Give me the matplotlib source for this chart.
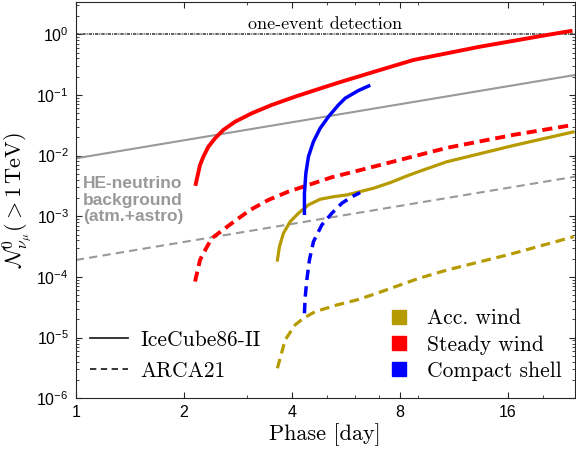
import matplotlib
matplotlib.use('Agg')
import matplotlib.pyplot as plt
from matplotlib.lines import Line2D
from matplotlib.ticker import FixedLocator, FixedFormatter, LogLocator, NullFormatter

plt.rcParams['mathtext.fontset'] = 'custom'
plt.rcParams['mathtext.rm'] = 'Liberation Sans'
plt.rcParams['mathtext.it'] = 'Liberation Sans:italic'
plt.rcParams['mathtext.bf'] = 'Liberation Sans:bold'
plt.rcParams['font.family'] = 'Liberation Sans'

# expected number of nu_mu events (> 1 TeV) vs. orbital phase [day]
acc_t = [3.647, 3.694, 3.790, 3.957, 4.172, 4.450, 4.797, 5.224, 5.692, 6.200, 6.754,
         7.515, 8.368, 9.015, 10.8, 16.6, 24.3]
acc_ic = [1.90e-4, 3.15e-4, 5.25e-4, 8.15e-4, 1.12e-3, 1.54e-3, 1.91e-3, 2.10e-3, 2.25e-3,
          2.55e-3, 2.90e-3, 3.58e-3, 4.62e-3, 5.43e-3, 7.9e-3, 1.47e-2, 2.45e-2]
acc_t_arca = [3.647, 3.832, 4.086, 4.308, 4.646, 5.340, 6.071, 6.903, 8.016, 9.015,
              10.82, 16.59, 24.4]
acc_arca = [3.13e-6, 9.15e-6, 1.62e-5, 2.08e-5, 2.68e-5, 3.45e-5, 4.18e-5, 5.38e-5, 7.38e-5,
            9.44e-5, 1.30e-4, 2.45e-4, 4.61e-4]

steady_t = [2.160, 2.188, 2.220, 2.268, 2.342, 2.445, 2.579, 2.780, 3.095, 3.518, 4.086,
            4.745, 5.513, 7.05, 8.73, 13.4, 20.5, 23.9]
steady_ic = [3.41e-3, 4.80e-3, 7.01e-3, 9.61e-3, 1.40e-2, 1.93e-2, 2.65e-2, 3.62e-2, 4.99e-2,
             6.84e-2, 9.36e-2, 0.125, 0.166, 0.258, 0.377, 0.625, 0.97, 1.13]
steady_t_arca = [2.15, 2.22, 2.268, 2.394, 2.721, 3.061, 3.442, 3.914, 4.450, 5.170, 5.94,
                 10.8, 16.6, 24.3]
steady_arca = [8.4e-5, 1.9e-4, 2.46e-4, 4.34e-4, 7.67e-4, 1.27e-3, 1.86e-3, 2.55e-3, 3.28e-3,
               4.40e-3, 5.4e-3, 1.34e-2, 2.2e-2, 3.2e-2]

shell_t = [4.337, 4.337, 4.377, 4.450, 4.595, 4.797, 5.059, 5.395, 5.632, 6.13, 6.55]
shell_ic = [1.12e-3, 2.39e-3, 5.12e-3, 9.61e-3, 1.70e-2, 2.82e-2, 4.38e-2, 6.84e-2, 8.81e-2,
            0.118, 0.1406]
shell_t_arca = [4.337, 4.356, 4.404, 4.478, 4.595, 4.849, 5.170, 5.513, 5.880, 6.200]
shell_arca = [2.52e-5, 4.45e-5, 8.91e-5, 1.90e-4, 3.82e-4, 7.19e-4, 1.12e-3, 1.64e-3,
              2.10e-3, 2.45e-3]

# HE-neutrino background (atm.+astro)
bkg_t = [1.0, 24.6]
bkg_ic = [9.0e-3, 0.213]
bkg_arca = [1.9e-4, 4.5e-3]

xticks = [1, 2, 4, 8, 16]
yticks = [1e-6, 1e-5, 1e-4, 1e-3, 1e-2, 1e-1, 1e0]
ytick_labels = ['10$^{-6}$', '10$^{-5}$', '10$^{-4}$', '10$^{-3}$', '10$^{-2}$', '10$^{-1}$', '10$^{0}$']

olive = '#B59A00'

fig = plt.figure(figsize=(5.76, 4.57), dpi=100)
ax = fig.add_axes([75.7 / 576, (457 - 398.3) / 457, (575 - 75.7) / 576, (398.3 - 2) / 457])

ax.plot(bkg_t, bkg_ic, color='#999999', lw=1.5)
ax.plot(bkg_t, bkg_arca, color='#999999', lw=1.5, linestyle=(0, (4, 2.5)))
ax.plot([1, 24.6], [1, 1], color='#444444', lw=1.2, linestyle=(0, (2, 0.6, 0.6, 0.6)))

ax.plot(steady_t, steady_ic, color='red', lw=2.8, solid_joinstyle='round')
ax.plot(steady_t_arca, steady_arca, color='red', lw=2.8, linestyle=(0, (2.6, 1.5)))
ax.plot(acc_t, acc_ic, color=olive, lw=2.3, solid_joinstyle='round')
ax.plot(acc_t_arca, acc_arca, color=olive, lw=2.3, linestyle=(0, (3, 1.8)))
ax.plot(shell_t, shell_ic, color='blue', lw=2.5, solid_joinstyle='round')
ax.plot(shell_t_arca, shell_arca, color='blue', lw=2.5, linestyle=(0, (3, 1.8)))

ax.set_xscale('log')
ax.set_yscale('log')
ax.set_xlim(1, 24.6)
ax.set_ylim(1e-6, 3.4)

ax.xaxis.set_major_locator(FixedLocator(xticks))
ax.xaxis.set_major_formatter(FixedFormatter([str(v) for v in xticks]))
ax.xaxis.set_minor_locator(LogLocator(base=10, subs=range(2, 10)))
ax.xaxis.set_minor_formatter(NullFormatter())
ax.yaxis.set_major_locator(FixedLocator(yticks))
ax.yaxis.set_major_formatter(FixedFormatter(ytick_labels))
ax.yaxis.set_minor_locator(LogLocator(base=10, subs=range(2, 10)))
ax.yaxis.set_minor_formatter(NullFormatter())

ax.tick_params(which='both', direction='in', top=True, right=True, color='#262626')
ax.tick_params(which='major', length=4, width=0.8, labelsize=11.5, pad=5)
ax.tick_params(which='minor', length=2.2, width=0.6)
for s in ax.spines.values():
    s.set_color('#262626')
    s.set_linewidth(0.8)

ax.set_xlabel('Phase [day]', fontfamily='cmr10', fontsize=16, labelpad=2)
ax.set_ylabel(r'$\mathcal{N}^{0}_{\nu_\mu}(>1\,\mathrm{TeV})$', fontsize=16,
              math_fontfamily='cm', labelpad=2)

ax.text(4.95, 1.2, 'one-event detection', fontfamily='cmr10', fontsize=13,
        ha='center', va='baseline')
ax.text(1.048, 1.85e-3, 'HE-neutrino\nbackground\n(atm.+astro)', color='#999999',
        fontweight='bold', fontsize=12.5, ha='left', va='center', linespacing=1.12)

style_handles = [Line2D([], [], color='#262626', lw=1.3),
                 Line2D([], [], color='#262626', lw=1.3, linestyle=(0, (3.5, 2.5)))]
leg1 = ax.legend(style_handles, ['IceCube86-II', 'ARCA21'], loc='center left',
                 bbox_to_anchor=(0.0286, 0.108), frameon=False, borderpad=0, borderaxespad=0,
                 handlelength=1.77, handletextpad=0.56, labelspacing=0.55,
                 prop={'family': 'cmr10', 'size': 15.5})
ax.add_artist(leg1)

model_handles = [Line2D([], [], color=c, marker='s', markersize=9.5, lw=0)
                 for c in [olive, 'red', 'blue']]
ax.legend(model_handles, ['Acc. wind', 'Steady wind', 'Compact shell'], loc='center right',
          bbox_to_anchor=(0.973, 0.135), frameon=False, borderpad=0, borderaxespad=0,
          handlelength=1.0, handletextpad=0.77, labelspacing=0.31,
          prop={'family': 'cmr10', 'size': 15.5})

fig.savefig('out.png', dpi=100)
